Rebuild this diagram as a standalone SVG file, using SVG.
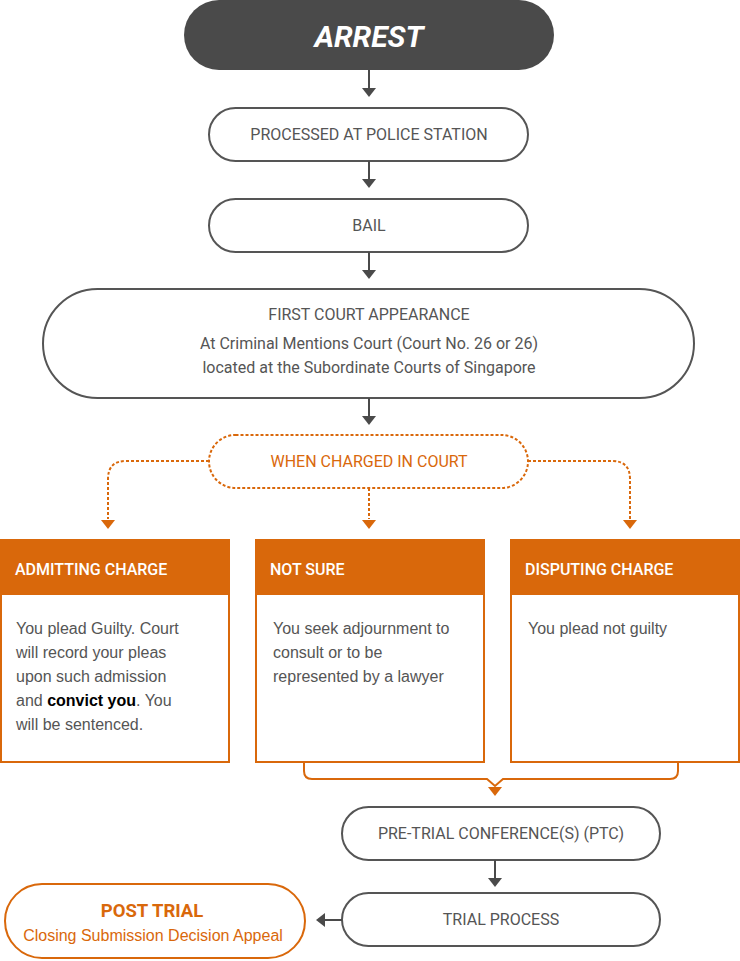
<svg xmlns="http://www.w3.org/2000/svg" width="740" height="961" viewBox="0 0 740 961">
<defs>
<style>
.pill{fill:#fff;stroke:#555;stroke-width:2}
.t{font-family:Roboto,"Liberation Sans",sans-serif;font-size:16px;fill:#555;text-anchor:middle}
.sub{font-family:Roboto,"Liberation Sans",sans-serif;font-size:16px;fill:#555;text-anchor:middle}
.body{font-family:"Liberation Sans",Arial,sans-serif;font-size:16px;fill:#555}
.hd{font-family:Roboto,"Liberation Sans",sans-serif;font-size:16px;font-weight:500;fill:#fff}
.box{fill:#fff;stroke:#d9680b;stroke-width:2}
.hdr{fill:#d9680b}
.ln{fill:none;stroke:#4a4a4a;stroke-width:2}
.dl{fill:none;stroke:#d9680b;stroke-width:2;stroke-dasharray:3 2}
.ol{fill:none;stroke:#d9680b;stroke-width:2}
.ah{fill:#4a4a4a}
.oh{fill:#d9680b}
</style>
</defs>
<rect width="740" height="961" fill="#fff"/>

<g id="arrest">
<rect x="184" y="0" width="370" height="70" rx="35" fill="#4a4a4a"/>
<text x="369" y="47" font-family="Roboto,'Liberation Sans',sans-serif" font-size="30" font-weight="bold" font-style="italic" fill="#fff" text-anchor="middle">ARREST</text>
</g>
<g id="police">
<rect class="pill" x="209" y="108" width="319" height="53" rx="26.5"/>
<text class="t" x="369" y="140">PROCESSED AT POLICE STATION</text>
</g>
<g id="bail">
<rect class="pill" x="209" y="199" width="319" height="53" rx="26.5"/>
<text class="t" x="369" y="231">BAIL</text>
</g>
<g id="first-court">
<rect class="pill" x="43" y="289" width="651" height="109" rx="54.5"/>
<text class="t" x="369" y="320">FIRST COURT APPEARANCE</text>
<text class="sub" x="369" y="349">At Criminal Mentions Court (Court No. 26 or 26)</text>
<text class="sub" x="369" y="373">located at the Subordinate Courts of Singapore</text>
</g>
<g id="when-charged">
<rect x="209" y="435" width="319" height="53" rx="26.5" fill="#fff" stroke="#d9680b" stroke-width="2" stroke-dasharray="3 2"/>
<text x="369" y="467" font-family="Roboto,'Liberation Sans',sans-serif" font-size="16" fill="#d9680b" text-anchor="middle">WHEN CHARGED IN COURT</text>
</g>
<g id="admitting">
<rect class="box" x="1" y="540" width="228" height="222"/>
<rect class="hdr" x="0" y="539" width="230" height="56"/>
<text class="hd" x="15" y="575">ADMITTING CHARGE</text>
<text class="body" x="16" y="634">You plead Guilty. Court</text>
<text class="body" x="16" y="658">will record your pleas</text>
<text class="body" x="16" y="682">upon such admission</text>
<text class="body" x="16" y="706">and <tspan font-weight="bold" fill="#000">convict you</tspan>. You</text>
<text class="body" x="16" y="730">will be sentenced.</text>
</g>
<g id="not-sure">
<rect class="box" x="256" y="540" width="228" height="222"/>
<rect class="hdr" x="255" y="539" width="230" height="56"/>
<text class="hd" x="270" y="575">NOT SURE</text>
<text class="body" x="273" y="634">You seek adjournment to</text>
<text class="body" x="273" y="658">consult or to be</text>
<text class="body" x="273" y="682">represented by a lawyer</text>
</g>
<g id="disputing">
<rect class="box" x="511" y="540" width="228" height="222"/>
<rect class="hdr" x="510" y="539" width="230" height="56"/>
<text class="hd" x="525" y="575">DISPUTING CHARGE</text>
<text class="body" x="528" y="634">You plead not guilty</text>
</g>
<g id="ptc">
<rect class="pill" x="342" y="807" width="318" height="53" rx="26.5"/>
<text class="t" x="501" y="839">PRE-TRIAL CONFERENCE(S) (PTC)</text>
</g>
<g id="trial">
<rect class="pill" x="342" y="893" width="318" height="53" rx="26.5"/>
<text class="t" x="501" y="925">TRIAL PROCESS</text>
</g>
<g id="post-trial">
<rect x="5" y="884" width="300" height="74" rx="37" fill="#fff" stroke="#d9680b" stroke-width="2"/>
<text x="152" y="917" font-family="Roboto,'Liberation Sans',sans-serif" font-size="18.5" font-weight="bold" fill="#d9680b" text-anchor="middle">POST TRIAL</text>
<text x="153" y="941" font-family="'Liberation Sans',Arial,sans-serif" font-size="16" fill="#d9680b" text-anchor="middle">Closing Submission Decision Appeal</text>
</g>

<g id="connectors">
<path class="ln" d="M369 70V88"/><path class="ah" d="M362 88h14l-7 9z"/>
<path class="ln" d="M369 161V179"/><path class="ah" d="M362 179h14l-7 9z"/>
<path class="ln" d="M369 252V270"/><path class="ah" d="M362 270h14l-7 9z"/>
<path class="ln" d="M369 398V416"/><path class="ah" d="M362 416h14l-7 9z"/>
<path class="dl" d="M209 461H126Q108 461 108 479V519"/><path class="oh" d="M101 520h14l-7 9z"/>
<path class="dl" d="M369 488V519"/><path class="oh" d="M362 520h14l-7 9z"/>
<path class="dl" d="M528 461H612Q630 461 630 479V519"/><path class="oh" d="M623 520h14l-7 9z"/>
<path class="ol" d="M304 762V771Q304 779 312 779H487L495 786L503 779H670Q678 779 678 771V762"/><path class="oh" d="M488 787h14l-7 9z"/>
<path class="ln" d="M495 860V878"/><path class="ah" d="M488 878h14l-7 9z"/>
<path class="ln" d="M342 920H324"/><path class="ah" d="M325 913v14l-9-7z"/>
</g>
</svg>
